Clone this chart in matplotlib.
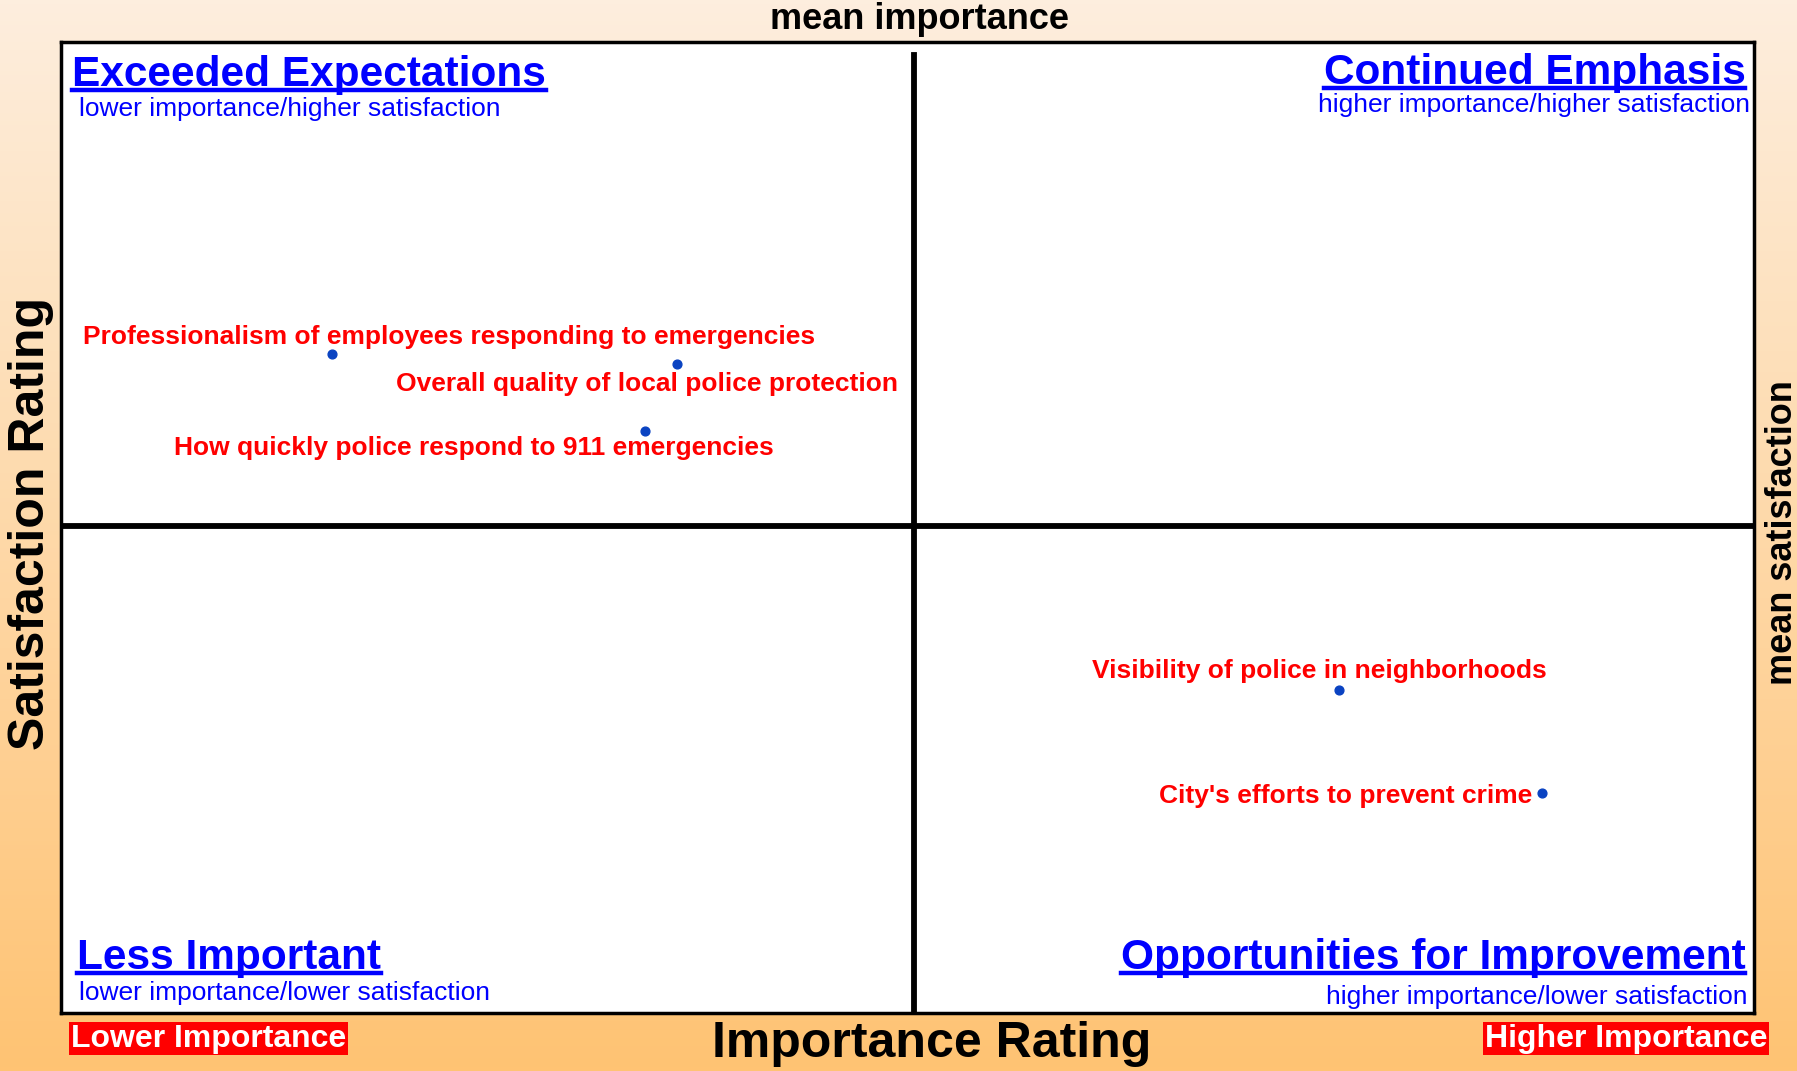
import numpy as np
import matplotlib.pyplot as plt
from matplotlib.colors import LinearSegmentedColormap
from matplotlib.lines import Line2D

plt.rcParams['font.family'] = ['Liberation Sans', 'DejaVu Sans']

# items (normalised position on the importance / satisfaction scale)
items = ['Professionalism of employees responding to emergencies',
         'Overall quality of local police protection',
         'How quickly police respond to 911 emergencies',
         'Visibility of police in neighborhoods',
         "City's efforts to prevent crime"]
importance = [0.160, 0.364, 0.345, 0.755, 0.875]
satisfaction = [0.679, 0.668, 0.599, 0.333, 0.226]
mean_importance = 0.504
mean_satisfaction = 0.501

# label placement relative to the dot (pixels) and alignment
label_offsets = [(117, 17), (-30, -20), (-171, -17), (-19, 19), (-10, -3)]
label_ha = ['center', 'center', 'center', 'center', 'right']

W, H = 1797, 1071
fig = plt.figure(figsize=(W / 100, H / 100), dpi=100)

# background gradient
bg = fig.add_axes([0, 0, 1, 1], zorder=-5)
cmap = LinearSegmentedColormap.from_list('bg', ['#fdeede', '#ffc373'])
bg.imshow(np.linspace(0, 1, 256).reshape(-1, 1), cmap=cmap, aspect='auto',
          extent=[0, 1, 0, 1])
bg.axis('off')

ax = fig.add_axes([0.0338, 0.0545, 0.942, 0.906])
ax.set_facecolor('white')
ax.set_xlim(0, 1)
ax.set_ylim(0, 1)
ax.set_xticks([])
ax.set_yticks([])
for s in ax.spines.values():
    s.set_linewidth(2.5)
    s.set_color('black')

ax.axvline(mean_importance, ymin=0, ymax=0.987, color='black', lw=4.2)
ax.axhline(mean_satisfaction, color='black', lw=4.2)

ax.scatter(importance, satisfaction, s=40, color='#0a43c2', zorder=5)
for name, x, y, off, ha in zip(items, importance, satisfaction, label_offsets, label_ha):
    ax.annotate(name, (x, y), xytext=off, textcoords='offset pixels',
                ha=ha, va='center', color='#ff0000', fontsize=19,
                fontweight='bold', zorder=6)

# quadrant headings
blue = '#0000ff'
heads = []
heads.append(fig.text(0.0402, 0.9198, 'Exceeded Expectations', fontsize=30.5,
                      fontweight='bold', color=blue, ha='left', va='baseline'))
fig.text(0.0440, 0.8920, 'lower importance/higher satisfaction', fontsize=19,
         color=blue, ha='left', va='baseline')
heads.append(fig.text(0.9713, 0.9220, 'Continued Emphasis', fontsize=30.5,
                      fontweight='bold', color=blue, ha='right', va='baseline'))
fig.text(0.9740, 0.8950, 'higher importance/higher satisfaction', fontsize=19,
         color=blue, ha='right', va='baseline')
heads.append(fig.text(0.0427, 0.0952, 'Less Important', fontsize=30.5,
                      fontweight='bold', color=blue, ha='left', va='baseline'))
fig.text(0.0440, 0.0665, 'lower importance/lower satisfaction', fontsize=19,
         color=blue, ha='left', va='baseline')
heads.append(fig.text(0.9713, 0.0952, 'Opportunities for Improvement', fontsize=30.5,
                      fontweight='bold', color=blue, ha='right', va='baseline'))
fig.text(0.9726, 0.0630, 'higher importance/lower satisfaction', fontsize=19,
         color=blue, ha='right', va='baseline')

# axis titles
fig.text(0.5115, 0.982, 'mean importance', fontsize=26, fontweight='bold',
         ha='center', va='center')
fig.text(0.5185, 0.025, 'Importance Rating', fontsize=36, fontweight='bold',
         ha='center', va='center')
fig.text(0.0172, 0.511, 'Satisfaction Rating', fontsize=36, fontweight='bold',
         ha='center', va='center', rotation=90)
fig.text(0.9918, 0.503, 'mean satisfaction', fontsize=26, fontweight='bold',
         ha='center', va='center', rotation=90)

fig.text(0.1160, 0.0303, 'Lower Importance', fontsize=23, fontweight='bold',
         color='white', ha='center', va='center',
         bbox=dict(boxstyle='square,pad=0.06', fc='#ff0000', ec='none'))
fig.text(0.9049, 0.0303, 'Higher Importance', fontsize=23, fontweight='bold',
         color='white', ha='center', va='center',
         bbox=dict(boxstyle='square,pad=0.06', fc='#ff0000', ec='none'))

# underline the headings
fig.canvas.draw()
r = fig.canvas.get_renderer()
for t in heads:
    bb = t.get_window_extent(r)
    yb = t.get_position()[1] * H - 4
    fig.add_artist(Line2D([bb.x0 / W, bb.x1 / W], [yb / H, yb / H],
                          color=blue, lw=3.2, transform=fig.transFigure))

fig.savefig('out.png', dpi=100)
